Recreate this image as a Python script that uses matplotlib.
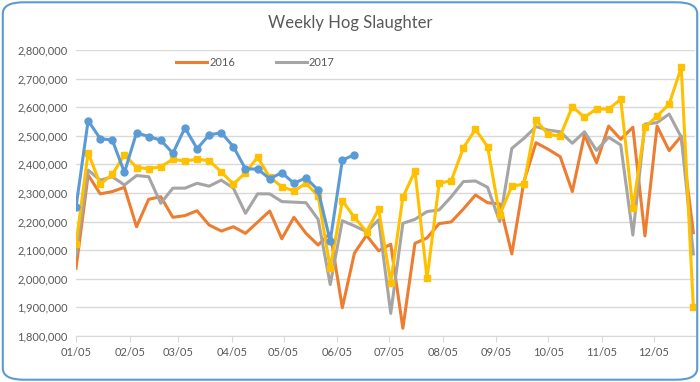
import numpy as np
import matplotlib
matplotlib.use("Agg")
import matplotlib.pyplot as plt
import matplotlib.dates as mdates
from matplotlib.patches import FancyBboxPatch
from matplotlib.ticker import FuncFormatter
import datetime as dt

# weekly slaughter, head
hogs_2016 = [2037000, 2363000, 2297000, 2305000, 2320000, 2182000, 2278000, 2287000, 2215000, 2221000,
             2238000, 2188000, 2167000, 2182000, 2159000, 2198000, 2237000, 2140000, 2215000, 2159000,
             2118000, 2160000, 1899000, 2090000, 2152000, 2098000, 2121000, 1827000, 2124000, 2143000,
             2193000, 2199000, 2244000, 2293000, 2266000, 2262000, 2087000, 2340000, 2476000, 2453000,
             2427000, 2305000, 2503000, 2406000, 2534000, 2488000, 2530000, 2150000, 2534000, 2448000,
             2499000, 2161000]
hogs_2017 = [2083000, 2380000, 2345000, 2357000, 2328000, 2361000, 2357000, 2264000, 2317000, 2317000,
             2334000, 2324000, 2345000, 2317000, 2229000, 2297000, 2297000, 2270000, 2268000, 2266000,
             2208000, 1980000, 2203000, 2185000, 2165000, 2206000, 1879000, 2194000, 2208000, 2235000,
             2241000, 2287000, 2340000, 2342000, 2320000, 2200000, 2456000, 2491000, 2532000, 2520000,
             2514000, 2474000, 2514000, 2449000, 2495000, 2468000, 2153000, 2541000, 2546000, 2576000,
             2495000, 2087000]
hogs_gold = [2122000, 2441000, 2331000, 2365000, 2434000, 2389000, 2385000, 2392000, 2418000, 2412000,
             2418000, 2413000, 2374000, 2331000, 2371000, 2425000, 2355000, 2322000, 2307000, 2334000,
             2290000, 2037000, 2273000, 2215000, 2165000, 2243000, 1987000, 2285000, 2377000, 2002000,
             2334000, 2343000, 2458000, 2523000, 2462000, 2223000, 2324000, 2331000, 2555000, 2505000,
             2499000, 2602000, 2565000, 2594000, 2593000, 2628000, 2246000, 2530000, 2569000, 2611000,
             2739000, 1900000]
hogs_2018 = [2251000, 2553000, 2490000, 2485000, 2372000, 2511000, 2497000, 2485000, 2439000, 2528000,
             2455000, 2503000, 2511000, 2462000, 2384000, 2384000, 2350000, 2371000, 2334000, 2353000,
             2310000, 2132000, 2415000, 2434000]

start = dt.date(2018, 1, 5)
weeks = [start + dt.timedelta(days=7 * i) for i in range(len(hogs_2016))]
month_ticks = [dt.date(2018, m, 5) for m in range(1, 13)]

fig = plt.figure(figsize=(7, 3.82), dpi=100)
ax = fig.add_axes([0.1086, 0.1204, 0.8844, 0.7487])

ax.plot(weeks, hogs_2016, color="#ED7D31", lw=2.2, label="2016", zorder=3)
ax.plot(weeks, hogs_2017, color="#A5A5A5", lw=2.2, label="2017", zorder=3)
ax.plot(weeks, hogs_gold, color="#FFC000", lw=2.2, marker="s", ms=5, label="_nolegend_", zorder=4)
ax.plot(weeks[:len(hogs_2018)], hogs_2018, color="#5B9BD5", lw=2.2, marker="o", ms=5,
        label="_nolegend_", zorder=5)

ax.set_ylim(1800000, 2800000)
ax.set_yticks(np.arange(1800000, 2800001, 100000))
ax.yaxis.set_major_formatter(FuncFormatter(lambda v, p: f"{int(v):,}"))
ax.set_xlim(dt.date(2018, 1, 5), dt.date(2018, 12, 29))
ax.set_xticks(month_ticks)
ax.xaxis.set_major_formatter(mdates.DateFormatter("%m/%d"))

ax.grid(axis="y", color="#D9D9D9", lw=1)
ax.set_axisbelow(True)
for s in ["top", "right", "left"]:
    ax.spines[s].set_visible(False)
ax.spines["bottom"].set_color("#D9D9D9")
ax.tick_params(axis="y", length=0, labelsize=8, labelcolor="#595959", pad=6)
ax.tick_params(axis="x", length=4, color="#D9D9D9", labelsize=8, labelcolor="#595959", pad=4)
for lbl in ax.get_xticklabels() + ax.get_yticklabels():
    lbl.set_family("Lato")

ax.legend(loc="upper left", bbox_to_anchor=(0.162, 0.975), ncol=2, frameon=False,
          prop={"family": "Lato", "size": 8}, handlelength=2.8, handletextpad=0.2,
          columnspacing=3.6, borderpad=0, borderaxespad=0, labelcolor="#595959")

fig.text(0.5, 0.94, "Weekly Hog Slaughter", ha="center", va="center",
         fontsize=12, color="#595959", family="Lato")

border = FancyBboxPatch((0.004, 0.006), 0.992, 0.988, boxstyle="round,pad=0,rounding_size=0.03",
                        transform=fig.transFigure, fill=False, ec="#5B9BD5", lw=1.5)
fig.patches.append(border)

fig.savefig("out.png", dpi=100)
